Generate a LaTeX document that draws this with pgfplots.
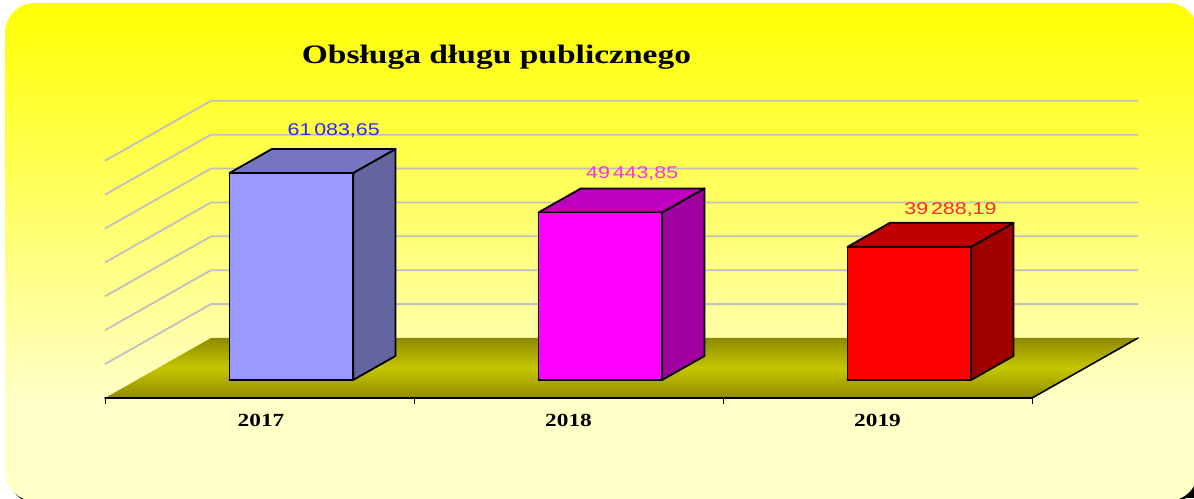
\documentclass[border=0pt]{standalone}
\usepackage{fontspec}
\usepackage{pgfplots}
\pgfplotsset{compat=1.18}
\setmainfont{Liberation Serif}
\newfontfamily\lblfont[FakeStretch=1.26]{Liberation Sans}
\newfontfamily\serifw[FakeStretch=1.26]{Liberation Serif}
\definecolor{pale}{HTML}{FFFFC8}
\pgfdeclareverticalshading{bgshade}{100bp}{
  color(0bp)=(pale); color(35bp)=(pale); color(75bp)=(yellow); color(100bp)=(yellow)}
\begin{document}
\begin{tikzpicture}[x=1pt,y=1pt]
\useasboundingbox (0,0) rectangle (1194,498);
\clip (0,0) rectangle (1194,498);
\fill[black] (1150,0) rectangle (1194,40);
\fill[black,rounded corners=30pt] (8,-6) rectangle (1198,60);
\shade[shading=bgshade,rounded corners=30pt] (5,-3) rectangle (1198,495);
\begin{axis}[
  at={(105pt,100pt)},anchor=origin,
  x={(309pt,0pt)},y={(106pt,60pt)},z={(0pt,3.389pt)},
  xmin=0,xmax=3,ymin=0,ymax=1,zmin=0,zmax=70,
  hide axis,clip=false,
  every axis plot/.append style={mark=none,line join=round,line cap=round},
  gridln/.style={draw={rgb,255:red,192;green,192;blue,192},line width=1.8pt,line cap=butt},
  edge/.style={draw=black,line width=1.8pt},
  frontA/.style={fill={rgb,255:red,153;green,153;blue,255},edge},
  topA/.style={fill={rgb,255:red,118;green,118;blue,192},edge},
  sideA/.style={fill={rgb,255:red,100;green,100;blue,160},edge},
  frontB/.style={fill={rgb,255:red,255;green,0;blue,255},edge},
  topB/.style={fill={rgb,255:red,192;green,0;blue,192},edge},
  sideB/.style={fill={rgb,255:red,160;green,0;blue,160},edge},
  frontC/.style={fill={rgb,255:red,255;green,0;blue,0},edge},
  topC/.style={fill={rgb,255:red,192;green,0;blue,0},edge},
  sideC/.style={fill={rgb,255:red,160;green,0;blue,0},edge},
]
% wall grid lines
\addplot3[gridln] coordinates {(0,0,10) (0,1,10) (3,1,10)};
\addplot3[gridln] coordinates {(0,0,20) (0,1,20) (3,1,20)};
\addplot3[gridln] coordinates {(0,0,30) (0,1,30) (3,1,30)};
\addplot3[gridln] coordinates {(0,0,40) (0,1,40) (3,1,40)};
\addplot3[gridln] coordinates {(0,0,50) (0,1,50) (3,1,50)};
\addplot3[gridln] coordinates {(0,0,60) (0,1,60) (3,1,60)};
\addplot3[gridln] coordinates {(0,0,70) (0,1,70) (3,1,70)};
% floor
\addplot3[draw=none,top color={rgb,255:red,142;green,138;blue,0},bottom color={rgb,255:red,142;green,138;blue,0},middle color={rgb,255:red,198;green,198;blue,0}]
  coordinates {(0,0,0) (3,0,0) (3,1,0) (0,1,0) (0,0,0)};
\addplot3[draw=black,line width=1.6pt] coordinates {(0,0,0) (3,0,0) (3,1,0)};
% ticks
\addplot3[draw=black,line width=1pt,line cap=butt] coordinates {(0,0,0) (0,0,-1.8)};
\addplot3[draw=black,line width=1pt,line cap=butt] coordinates {(1,0,0) (1,0,-1.8)};
\addplot3[draw=black,line width=1pt,line cap=butt] coordinates {(2,0,0) (2,0,-1.8)};
\addplot3[draw=black,line width=1pt,line cap=butt] coordinates {(3,0,0) (3,0,-1.8)};
% 2017
\addplot3[sideA] coordinates {(0.7,0.3,0) (0.7,0.7,0) (0.7,0.7,61.08365) (0.7,0.3,61.08365) (0.7,0.3,0)};
\addplot3[topA] coordinates {(0.3,0.3,61.08365) (0.7,0.3,61.08365) (0.7,0.7,61.08365) (0.3,0.7,61.08365) (0.3,0.3,61.08365)};
\addplot3[frontA] coordinates {(0.3,0.3,0) (0.7,0.3,0) (0.7,0.3,61.08365) (0.3,0.3,61.08365) (0.3,0.3,0)};
% 2018
\addplot3[sideB] coordinates {(1.7,0.3,0) (1.7,0.7,0) (1.7,0.7,49.44385) (1.7,0.3,49.44385) (1.7,0.3,0)};
\addplot3[topB] coordinates {(1.3,0.3,49.44385) (1.7,0.3,49.44385) (1.7,0.7,49.44385) (1.3,0.7,49.44385) (1.3,0.3,49.44385)};
\addplot3[frontB] coordinates {(1.3,0.3,0) (1.7,0.3,0) (1.7,0.3,49.44385) (1.3,0.3,49.44385) (1.3,0.3,0)};
% 2019
\addplot3[sideC] coordinates {(2.7,0.3,0) (2.7,0.7,0) (2.7,0.7,39.28819) (2.7,0.3,39.28819) (2.7,0.3,0)};
\addplot3[topC] coordinates {(2.3,0.3,39.28819) (2.7,0.3,39.28819) (2.7,0.7,39.28819) (2.3,0.7,39.28819) (2.3,0.3,39.28819)};
\addplot3[frontC] coordinates {(2.3,0.3,0) (2.7,0.3,0) (2.7,0.3,39.28819) (2.3,0.3,39.28819) (2.3,0.3,0)};
% labels
\node[text={rgb,255:red,40;green,40;blue,255},font=\lblfont\fontsize{17}{17}\selectfont,inner sep=0pt] at (axis cs:0.5,0.7,66.5) {61\,083,65};
\node[text={rgb,255:red,255;green,50;blue,225},font=\lblfont\fontsize{17}{17}\selectfont,inner sep=0pt] at (axis cs:1.466,0.7,53.8) {49\,443,85};
\node[text={rgb,255:red,255;green,40;blue,40},font=\lblfont\fontsize{17}{17}\selectfont,inner sep=0pt] at (axis cs:2.496,0.7,43.2) {39\,288,19};
\node[font=\serifw\bfseries\fontsize{18.5}{18.5}\selectfont,inner sep=0pt] at (axis cs:0.505,0,-6.5) {2017};
\node[font=\serifw\bfseries\fontsize{18.5}{18.5}\selectfont,inner sep=0pt] at (axis cs:1.5,0,-6.5) {2018};
\node[font=\serifw\bfseries\fontsize{18.5}{18.5}\selectfont,inner sep=0pt] at (axis cs:2.5,0,-6.5) {2019};
\node[font=\serifw\bfseries\fontsize{26.6}{26.6}\selectfont,inner sep=0pt] at (axis cs:1.267,0,100.6) {Obsługa długu publicznego};
\end{axis}
\end{tikzpicture}
\end{document}
